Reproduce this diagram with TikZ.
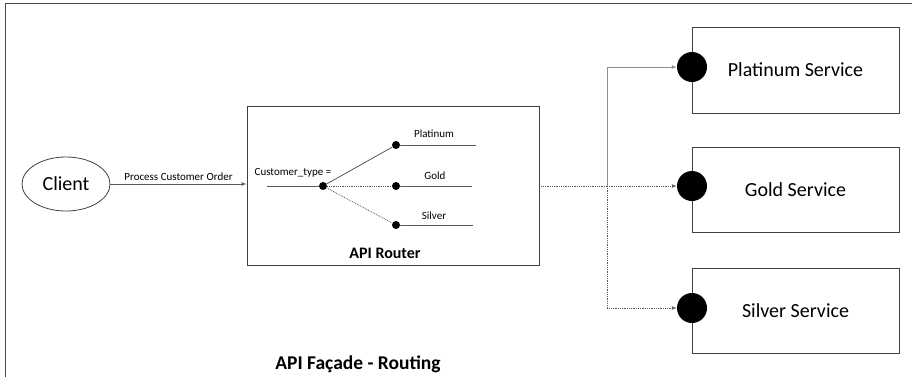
\documentclass[tikz,border=0pt]{standalone}
\usepackage{fontspec}
\setmainfont{Carlito}
\usetikzlibrary{arrows,shapes.geometric}
\begin{document}
\begin{tikzpicture}
                [x=1pt,y=-1pt,
                box/.style={draw=black!75,thick,inner sep=0pt},
                bigdot/.style={circle,fill=black,inner sep=0pt,minimum size=30pt},
                smalldot/.style={circle,fill=black,inner sep=0pt,minimum size=8pt},
                wire/.style={draw=black!65,thick},
                edge/.style={->,> = latex',draw=black!65,thick},
                tiny/.style={font=\fontsize{11}{13}\selectfont},
                service/.style={box,minimum width=207pt,font=\fontsize{20}{24}\selectfont}
                ]
            \useasboundingbox (0,0) rectangle (912,376);
            \draw[black!70,thick] (5,3) rectangle (930,390);
            \node[box,ellipse,minimum width=88pt,minimum height=54pt,font=\fontsize{20}{24}\selectfont] (client) at (66,184) {Client};
            \node[box,minimum width=292pt,minimum height=159pt] (router) at (393,185.5) {};
            \node[font=\fontsize{16}{19}\selectfont\bfseries] (routerlbl) at (385,253) {API Router};
            \coordinate (in) at (267,186);
            \node[smalldot] (sw) at (323,186) {};
            \node[smalldot] (p) at (396,145) {};
            \node[smalldot] (g) at (396,186) {};
            \node[smalldot] (s) at (396,225) {};
            \coordinate (pe) at (476,145);
            \coordinate (ge) at (472,186);
            \coordinate (se) at (473,225);
            \node[tiny] (ct) at (293,173) {Customer\_type =};
            \node[tiny] (plbl) at (434,134) {Platinum};
            \node[tiny] (glbl) at (435,176) {Gold};
            \node[tiny] (slbl) at (434,216) {Silver};
            \draw[wire] (in) -- (sw);
            \draw[wire] (sw) -- (p);
            \draw[wire,densely dotted] (sw) -- (g);
            \draw[wire,densely dotted] (sw) -- (s);
            \draw[wire] (p) -- (pe);
            \draw[wire] (g) -- (ge);
            \draw[wire] (s) -- (se);
            \draw[edge] (client.east) -- node[above,tiny] {Process Customer Order} (client.east -| router.west);
            \node[service,minimum height=86pt] (plat) at (795.5,70) {Platinum Service};
            \node[service,minimum height=85pt] (gold) at (795.5,189.5) {Gold Service};
            \node[service,minimum height=85pt] (silv) at (795.5,310.5) {Silver Service};
            \node[bigdot] (pc) at (692,67) {};
            \node[bigdot] (gc) at (692,186) {};
            \node[bigdot] (sc) at (692,308) {};
            \coordinate (j) at (607,186);
            \draw[wire,densely dotted] (router.east |- j) -- (j);
            \draw[edge,black!45] (j) |- (pc.west);
            \draw[edge,densely dotted] (j) -- (gc.west);
            \draw[edge,densely dotted] (j) |- (sc.west);
            \node[font=\fontsize{19.5}{23}\selectfont\bfseries] (title) at (358,364) {API Façade - Routing};
            \end{tikzpicture}
\end{document}
